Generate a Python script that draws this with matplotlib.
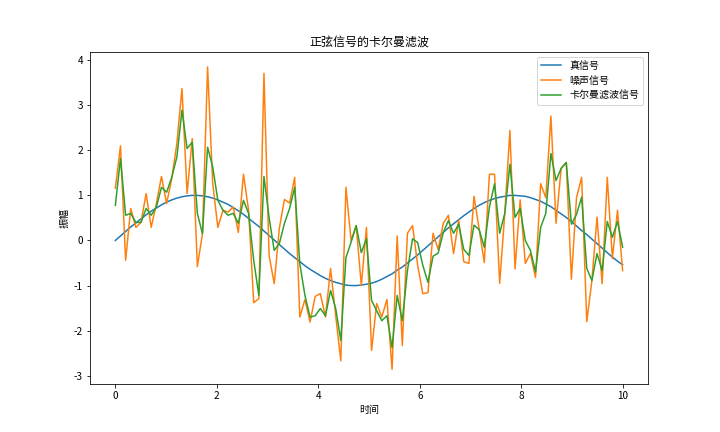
import numpy as np
import matplotlib
matplotlib.use("Agg")
import matplotlib.pyplot as plt

plt.rcParams['font.family'] = ['Noto Sans CJK SC', 'DejaVu Sans']
plt.rcParams['axes.unicode_minus'] = False

t = np.linspace(0, 10, 100)

true_signal = [
    0.00, 0.10, 0.20, 0.30, 0.39, 0.48, 0.57, 0.65, 0.72, 0.79,
    0.85, 0.90, 0.94, 0.97, 0.99, 1.00, 1.00, 0.99, 0.97, 0.94,
    0.90, 0.85, 0.80, 0.73, 0.66, 0.58, 0.49, 0.40, 0.31, 0.21,
    0.11, 0.01, -0.09, -0.19, -0.29, -0.38, -0.47, -0.56, -0.64, -0.71,
    -0.78, -0.84, -0.89, -0.93, -0.96, -0.99, -1.00, -1.00, -0.99, -0.97,
    -0.95, -0.91, -0.86, -0.80, -0.74, -0.66, -0.59, -0.50, -0.41, -0.32,
    -0.22, -0.12, -0.02, 0.08, 0.18, 0.28, 0.37, 0.46, 0.55, 0.63,
    0.71, 0.78, 0.84, 0.89, 0.93, 0.96, 0.98, 1.00, 1.00, 0.99,
    0.98, 0.95, 0.91, 0.87, 0.81, 0.75, 0.67, 0.59, 0.51, 0.42,
    0.32, 0.22, 0.13, 0.03, -0.07, -0.17, -0.27, -0.37, -0.46, -0.54,
]

noisy_signal = [
    1.16, 2.10, -0.44, 0.71, 0.29, 0.40, 1.04, 0.29, 0.82, 1.42,
    0.82, 1.37, 2.15, 3.37, 1.04, 2.26, -0.58, 0.15, 3.85, 1.26,
    0.29, 0.67, 0.63, 0.74, 0.18, 1.47, 0.67, -1.38, -1.29, 3.71,
    -0.33, -0.96, 0.27, 0.91, 0.83, 1.40, -1.70, -1.31, -1.81, -1.24,
    -1.18, -1.70, -0.62, -1.67, -2.67, 1.18, 0.00, 0.33, -1.00, 0.29,
    -2.44, -1.40, -1.70, -1.31, -2.86, 0.10, -2.33, 0.16, 0.33, -0.55,
    -1.18, -1.16, 0.16, -0.20, 0.38, 0.56, -0.29, 0.45, -0.47, -0.51,
    0.98, 0.25, -0.49, 1.47, 1.47, -0.95, 0.60, 2.44, -0.63, 0.90,
    -0.51, -0.29, -0.82, 1.26, 0.95, 2.76, 0.38, 1.60, 1.73, -0.86,
    0.95, 1.40, -1.80, -0.89, 0.52, -0.96, 1.40, -0.40, 0.67, -0.67,
]

kalman_signal = [
    0.78, 1.82, 0.56, 0.60, 0.40, 0.40, 0.71, 0.56, 0.74, 1.18,
    1.07, 1.40, 1.85, 2.89, 2.04, 2.18, 0.60, 0.15, 2.07, 1.63,
    0.89, 0.67, 0.56, 0.60, 0.38, 0.89, 0.60, -0.44, -1.22, 1.42,
    0.51, -0.22, -0.07, 0.38, 0.71, 1.18, -0.52, -1.22, -1.70, -1.67,
    -1.51, -1.67, -1.11, -1.51, -2.22, -0.38, -0.04, 0.33, -0.27, 0.04,
    -1.33, -1.56, -1.78, -1.67, -2.38, -1.22, -1.78, -0.67, 0.04, -0.05,
    -0.55, -0.93, -0.35, -0.28, 0.18, 0.44, 0.16, 0.36, -0.20, -0.33,
    0.34, 0.24, -0.15, 0.74, 1.26, 0.16, 0.60, 1.69, 0.51, 0.71,
    0.00, -0.22, -0.70, 0.29, 0.60, 1.93, 1.33, 1.60, 1.73, 0.36,
    0.58, 0.96, -0.62, -0.89, -0.29, -0.67, 0.42, 0.07, 0.42, -0.15,
]

fig, ax = plt.subplots(figsize=(10, 6), dpi=72)
ax.plot(t, true_signal, label='真信号')
ax.plot(t, noisy_signal, label='噪声信号')
ax.plot(t, kalman_signal, label='卡尔曼滤波信号')
ax.set_title('正弦信号的卡尔曼滤波')
ax.set_xlabel('时间')
ax.set_ylabel('振幅')
ax.legend(loc='upper right')
fig.savefig('out.png', dpi=72)
